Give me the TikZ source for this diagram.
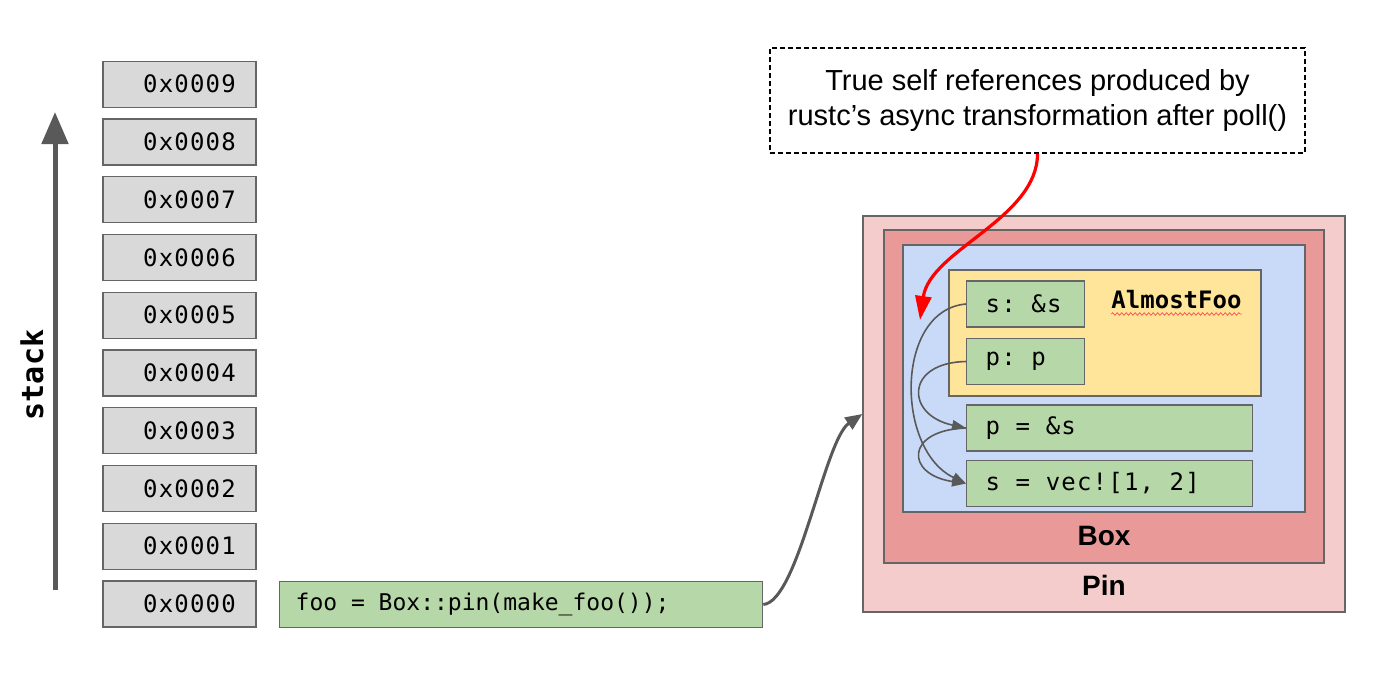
\documentclass[tikz,border=0pt]{standalone}
\usepackage{fontspec}
\setmainfont{Liberation Sans}
\setmonofont{DejaVu Sans Mono}
\newfontfamily\codefont{DejaVu Sans Mono}[LetterSpace=5]
\newfontfamily\foofont{DejaVu Sans Mono}
\newcommand\codegap{\hspace*{15.6pt}}
\newcommand\foogap{\hspace*{13.85pt}}
\usetikzlibrary{
  arrows.meta,
  decorations.pathmorphing
}
\definecolor{edge}{HTML}{666666}
\definecolor{arrowgray}{HTML}{595959}
\definecolor{cellgray}{HTML}{D9D9D9}
\definecolor{codegreen}{HTML}{B6D7A8}
\definecolor{pinpink}{HTML}{F4CCCC}
\definecolor{boxred}{HTML}{EA9999}
\definecolor{heapblue}{HTML}{C9DAF8}
\definecolor{fooyellow}{HTML}{FFE599}
\tikzset{
  stack cell/.style={draw=edge,line width=1.3pt,fill=cellgray,minimum width=153pt,minimum height=46pt,
    font=\codefont\fontsize{24pt}{28pt}\selectfont},
  code box/.style={draw=edge,line width=1.3pt,fill=codegreen,anchor=west,minimum height=46pt,
    inner xsep=19pt,inner ysep=0pt,font=\codefont\fontsize{24pt}{28pt}\selectfont},
  wrapper/.style={draw=edge,line width=1.3pt,inner sep=0pt},
  wrapper name/.style={font=\bfseries\fontsize{28pt}{32pt}\selectfont},
  note box/.style={draw=black,line width=1.3pt,dash pattern=on 5pt off 3pt,minimum width=535pt,
    minimum height=105pt,align=center,font=\fontsize{29pt}{35pt}\selectfont},
  stack arrow/.style={draw=arrowgray,line width=5pt,-{Triangle[width=26pt,length=32pt]}},
  ptr/.style={draw=arrowgray,line width=3pt,-{Triangle[width=14pt,length=17pt]}},
  self ref/.style={draw=arrowgray,line width=1.6pt,-{Triangle[width=10pt,length=14pt]}},
  red ref/.style={draw=red,line width=3.2pt,-{Triangle[width=16pt,length=24pt]}},
  spell/.style={draw=red!70,line width=0.7pt,decorate,decoration={snake,amplitude=1.3pt,segment length=4.5pt}},
}

\begin{document}
\begin{tikzpicture}[x=1pt,y=-1pt]
\useasboundingbox (0,0) rectangle (1396,672);

% the stack
\foreach \k in {0,...,9}
  \node[stack cell] (cell\k) at (179.5,{604-57.75*\k}) {\hspace*{20pt}0x000\k};
\coordinate (stack bottom) at (55,590);
\coordinate (stack top) at (55,112);
\draw[stack arrow] (stack bottom) -- (stack top);
\node[rotate=90,font=\ttfamily\bfseries\fontsize{30pt}{34pt}\selectfont] (stack name) at (32,375) {stack};

\node[code box,text width=451pt,inner xsep=16pt,font=\foofont\fontsize{23pt}{27pt}\selectfont] (foo) at (279,604.5) {foo\foogap=\foogap Box::pin(make\_foo());};

% the heap
\node[wrapper,fill=pinpink,minimum width=482pt,minimum height=396pt] (pin) at (1104,414) {};
\node[wrapper,fill=boxred,minimum width=440pt,minimum height=333pt] (box) at (1104,396.5) {};
\node[wrapper,fill=heapblue,minimum width=402pt,minimum height=267pt] (heap) at (1104,378.5) {};
\node[wrapper,fill=fooyellow,minimum width=312pt,minimum height=126pt] (almost) at (1105,333) {};
\node[wrapper name] (pin name) at (1104,585) {Pin};
\node[wrapper name] (box name) at (1104,536) {Box};
\node[inner sep=0pt,anchor=base,font=\foofont\bfseries\fontsize{24pt}{28pt}\selectfont] (almost name) at (1176.5,308) {AlmostFoo};
\draw[spell] ([yshift=-6pt]almost name.base west) -- ([yshift=-6pt]almost name.base east);

\node[code box,text width=80pt] (s field) at (966,304) {s:\codegap\&s};
\node[code box,text width=80pt] (p field) at (966,361.5) {p:\codegap p};
\node[code box,text width=248pt] (p local) at (966,428) {p\codegap=\codegap\&s};
\node[code box,text width=248pt] (s local) at (966,483.5) {s\codegap=\codegap vec![1,\codegap 2]};

\draw[self ref] (s field.west) .. controls +(-71,6) and +(-71,-34) .. (s local.west);
\draw[self ref] (p field.west) .. controls +(-61,1) and +(-61,-13) .. (p local.west);
\draw[self ref] (p local.west) .. controls +(-61,2) and +(-61,-9) .. (s local.west);

\draw[ptr] (foo.east) .. controls +(35,-3) and +(-38,26) .. (pin.west);

% the note
\node[note box] (note) at (1037.5,100.5) {True self references produced by\\rustc’s async transformation after poll()};
\coordinate (red tip) at (920,320);
\draw[red ref] (note.south) .. controls +(0,65) and +(10,-70) .. (red tip);
\end{tikzpicture}
\end{document}
